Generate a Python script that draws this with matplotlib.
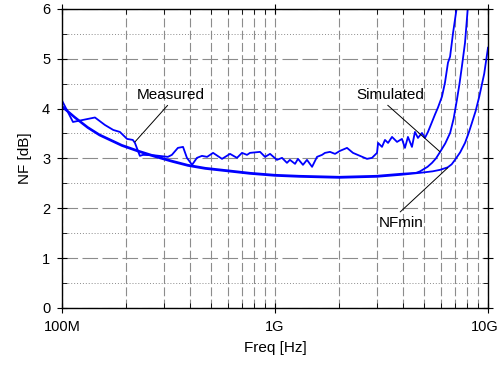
import matplotlib
matplotlib.use('Agg')
import matplotlib.pyplot as plt
from matplotlib.ticker import LogLocator, MultipleLocator, NullFormatter
from matplotlib.transforms import ScaledTranslation

plt.rcParams['font.family'] = ['Liberation Sans', 'DejaVu Sans']

# measured NF (frequency in MHz)
meas_freq = [100, 112.6, 142.8, 159, 174, 187, 202, 215, 220, 232, 240, 273, 314, 328,
             350, 370, 386, 408, 430, 454, 480, 512, 564, 615, 663, 700, 739, 763, 851,
             898, 948, 1021, 1079, 1138, 1175, 1242, 1282, 1353, 1413, 1493, 1575, 1663,
             1717, 1812, 1914, 2018, 2178, 2323, 2506, 2704, 2853, 3013, 3048, 3179, 3283,
             3395, 3543, 3741, 3945, 4074, 4209, 4395, 4540, 4690, 4897, 5058, 5225, 5458,
             5638, 5823, 6081, 6281, 6488, 6637, 6855, 7148]
meas_nf = [4.16, 3.73, 3.82, 3.67, 3.57, 3.53, 3.39, 3.37, 3.31, 3.05, 3.07, 3.06, 3.03, 3.07,
           3.21, 3.23, 3.01, 2.87, 3.01, 3.05, 3.03, 3.11, 2.99, 3.09, 3.01, 3.11, 3.07, 3.11, 3.13,
           3.03, 3.09, 2.97, 3.01, 2.91, 2.97, 2.89, 2.99, 2.87, 2.97, 2.83, 3.03, 3.07,
           3.11, 3.13, 3.09, 3.15, 3.21, 3.11, 3.05, 2.99, 3.01, 3.11, 3.31, 3.23, 3.37,
           3.31, 3.43, 3.33, 3.39, 3.21, 3.43, 3.23, 3.53, 3.41, 3.51, 3.41, 3.53, 3.73,
           3.88, 4.02, 4.24, 4.52, 4.92, 5.04, 5.52, 6.05]

# simulated NF
sim_freq = [100, 115, 132, 150, 191, 230, 273, 330, 390, 470, 600, 763, 1000, 1300, 2000,
            3000, 3900, 4600, 4800, 5200, 5460, 5700, 5960, 6300, 6640, 6900, 7150, 7350,
            7540, 7800, 8050]
sim_nf = [4.05, 3.83, 3.63, 3.48, 3.27, 3.15, 3.05, 2.95, 2.87, 2.81, 2.76, 2.71, 2.67, 2.65, 2.63,
          2.65, 2.69, 2.71, 2.74, 2.83, 2.91, 3.00, 3.13, 3.30, 3.51, 3.80, 4.18, 4.50,
          4.84, 5.32, 6.05]

# NFmin
nfmin_freq = [100, 115, 132, 150, 191, 230, 273, 330, 390, 470, 600, 763, 1000, 1300, 2000,
              3000, 3900, 4800, 5500, 5960, 6470, 6750, 7000, 7400, 7800, 8100, 8400, 8750,
              9100, 9600, 10000]
nfmin_nf = [4.03, 3.81, 3.61, 3.46, 3.25, 3.13, 3.03, 2.93, 2.85, 2.79, 2.74, 2.69, 2.65, 2.63, 2.61,
            2.63, 2.67, 2.71, 2.74, 2.77, 2.82, 2.88, 2.97, 3.12, 3.31, 3.50, 3.71, 3.95,
            4.24, 4.70, 5.22]

x_ticks = [1e8, 1e9, 1e10]
x_labels = ['100M', '1G', '10G']

fig = plt.figure(figsize=(5, 3.67), dpi=100)
ax = fig.add_axes([0.124, 0.161, 0.852, 0.815])

for freq, nf in [(meas_freq, meas_nf), (sim_freq, sim_nf), (nfmin_freq, nfmin_nf)]:
    ax.plot([f * 1e6 for f in freq], nf, color='#0000ff', lw=1.3)

ax.set_xscale('log')
ax.set_xlim(1e8, 1e10)
ax.set_ylim(0, 6)
ax.set_xticks(x_ticks, x_labels)
ax.xaxis.set_minor_locator(LogLocator(base=10, subs=range(2, 10)))
ax.xaxis.set_minor_formatter(NullFormatter())
ax.yaxis.set_major_locator(MultipleLocator(1))
ax.yaxis.set_minor_locator(MultipleLocator(0.5))

ax.set_axisbelow(True)
ax.grid(which='major', axis='y', color='#8c8c8c', lw=0.8, ls=(0, (14, 4)))
ax.grid(which='minor', axis='y', color='#8c8c8c', lw=0.7, ls=(0, (1, 2)))
ax.grid(which='both', axis='x', color='#8c8c8c', lw=0.8, ls=(0, (8, 3)))

ax.tick_params(which='major', direction='inout', length=7, width=0.8, labelsize=10.5,
               top=True, right=True, pad=5)
ax.tick_params(which='minor', direction='in', length=3.5, width=0.6, top=True, right=True)
for s in ax.spines.values():
    s.set_linewidth(1.0)

# keep the "10G" label inside the canvas
last = ax.get_xticklabels()[-1]
last.set_transform(last.get_transform() + ScaledTranslation(-2 / 72, 0, fig.dpi_scale_trans))

ax.set_xlabel('Freq [Hz]', fontsize=11, labelpad=5)
ax.set_ylabel('NF [dB]', fontsize=11, labelpad=7)

line = dict(arrowstyle='-', color='black', lw=0.7, shrinkA=1, shrinkB=0)
ax.annotate('Measured', xy=(220e6, 3.33), xytext=(325e6, 4.28), fontsize=11,
            ha='center', va='center', arrowprops=dict(line, relpos=(0.5, 0)))
ax.annotate('Simulated', xy=(5.96e9, 3.13), xytext=(3.48e9, 4.28), fontsize=11,
            ha='center', va='center', arrowprops=dict(line, relpos=(0.4, 0)))
ax.annotate('NFmin', xy=(6.47e9, 2.81), xytext=(3.89e9, 1.71), fontsize=11,
            ha='center', va='center', arrowprops=dict(line, relpos=(0.4, 1)))

fig.savefig('out.png', dpi=100)
